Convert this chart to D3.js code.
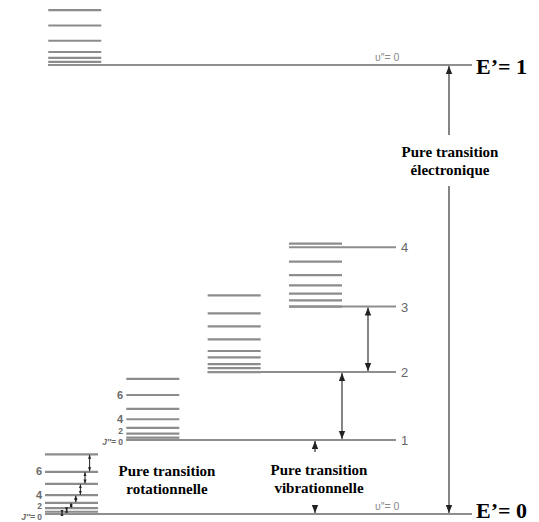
<!DOCTYPE html>
<html><head><meta charset="utf-8">
<script src="https://cdn.jsdelivr.net/npm/d3@7"></script>
<style>body{margin:0;background:#fff}svg{display:block}</style>
</head><body>
<svg id="c" width="539" height="522"></svg>
<script>
// ---- data (energies in arbitrary units; ground electronic = 0, excited electronic = 1000)
const electronicLevels = [0, 1000];
const electronicLabels = ["E’= 0", "E’= 1"];
const vibLevels = [0, 165, 316, 462, 594];           // v = 0..4 of ground electronic state
const vibLabels = ["", "1", "2", "3", "4"];
// rotational offsets above each vibrational level (J = 0,1,2,...)
const rotGround = [0, 5, 13, 25, 42, 67, 94, 133];
const rotV1 = [0, 5, 14, 27, 46, 69, 100, 136];
const rotV2 = [0, 9, 18, 33, 47, 73, 102, 131, 171];
const rotV3 = [0, 14, 29, 47, 70, 100, 140];
const rotExcited = [0, 7, 16, 29, 54, 88, 122];
const rotLabelJ = [0, 2, 4, 6];
const transitionTexts = [["Pure transition", "rotationnelle"], ["Pure transition", "vibrationnelle"], ["Pure transition", "électronique"]];

const svg = d3.select("#c");
const y = d3.scaleLinear().domain([0, 1000]).range([514, 65]);
const colX = d3.scaleLinear().domain([0, 3]).range([45, 289]); // stack column left edge
const stackW = 53;
const lineEnd = 396, elecEnd = 472;
const gray = "#8e8e8e";

// defs for arrows
const defs = svg.append("defs");
function marker(id, size, orient) {
  defs.append("marker").attr("id", id).attr("viewBox", "0 0 10 10")
    .attr("refX", 10).attr("refY", 5).attr("markerWidth", size).attr("markerHeight", size)
    .attr("orient", orient).attr("markerUnits", "userSpaceOnUse")
    .append("path").attr("d", "M0,1 L10,5 L0,9 Z").attr("fill", "#222");
}
marker("ah", 8, "auto-start-reverse");
marker("as", 4, "auto-start-reverse");

// rotational stacks
const stacks = [
  {base: vibLevels[0], rot: rotGround, col: 0},
  {base: vibLevels[1], rot: rotV1, col: 1},
  {base: vibLevels[2], rot: rotV2, col: 2},
  {base: vibLevels[3], rot: rotV3, col: 3},
  {base: electronicLevels[1], rot: rotExcited, col: 0.04}
];
stacks.forEach(s => {
  svg.append("g").selectAll("line").data(s.rot).join("line")
    .attr("x1", colX(s.col)).attr("x2", colX(s.col) + stackW)
    .attr("y1", d => y(s.base + d)).attr("y2", d => y(s.base + d))
    .attr("stroke", "#8c8c8c").attr("stroke-width", 2.2);
});

// vibrational level lines
svg.append("g").selectAll("line").data(vibLevels.slice(1)).join("line")
  .attr("x1", (d, i) => colX(Math.min(i + 1, 3))).attr("x2", lineEnd)
  .attr("y1", d => y(d)).attr("y2", d => y(d))
  .attr("stroke", gray).attr("stroke-width", 2);
// electronic level lines
svg.append("g").selectAll("line").data(electronicLevels).join("line")
  .attr("x1", (d, i) => i === 0 ? colX(0) : colX(0.04)).attr("x2", elecEnd)
  .attr("y1", d => y(d)).attr("y2", d => y(d))
  .attr("stroke", gray).attr("stroke-width", 2);

// vibrational labels
svg.append("g").selectAll("text").data(vibLevels).join("text")
  .attr("x", 401).attr("y", d => y(d) + 5)
  .text((d, i) => vibLabels[i])
  .attr("font-family", "Liberation Sans, Arial").attr("font-size", 13).attr("fill", "#666");

// v'' = 0 labels
svg.append("g").selectAll("text").data(electronicLevels).join("text")
  .attr("x", 375).attr("y", d => y(d) - 4.5)
  .attr("font-family", "Liberation Sans, Arial").attr("font-size", 10.5).attr("fill", "#888")
  .text("υ″= 0");

// electronic labels
svg.append("g").selectAll("text").data(electronicLevels).join("text")
  .attr("x", 476).attr("y", (d, i) => y(d) + (i === 0 ? 4 : 9))
  .attr("font-family", "Liberation Serif, Times New Roman").attr("font-weight", "bold")
  .attr("font-size", 22).attr("fill", "#000")
  .text((d, i) => electronicLabels[i]);

// J labels on first two stacks
[{s: stacks[0], xr: 42}, {s: stacks[1], xr: 123}].forEach(o => {
  const g = svg.append("g").attr("font-family", "Liberation Sans, Arial").attr("font-weight", "bold")
    .attr("font-size", 11).attr("fill", "#6a6a6a").attr("text-anchor", "end");
  g.selectAll("text").data(rotLabelJ).join("text")
    .attr("x", o.xr).attr("y", j => y(o.s.base + o.s.rot[j]) + (j === 0 ? 5.5 : j === 2 ? 0.5 : 3.5))
    .attr("font-size", j => j < 4 ? 8.5 : 11)
    .text(j => String(j));
  g.append("text").attr("x", o.xr - 7).attr("y", y(o.s.base) + 5.5)
    .attr("font-style", "italic").attr("font-size", 8.5).text("J″=");
});

// small rotational arrows in ground stack
const pairs = d3.range(rotGround.length - 1);
svg.append("g").selectAll("line").data(pairs).join("line")
  .attr("x1", j => 62 + 4.6 * j).attr("x2", j => 62 + 4.6 * j)
  .attr("y1", j => y(rotGround[j]) - 0.5).attr("y2", j => y(rotGround[j + 1]) + 0.5)
  .attr("stroke", "#222").attr("stroke-width", 1)
  .attr("marker-start", "url(#as)").attr("marker-end", "url(#as)");

// vibrational arrows (1<->2, 2<->3)
const vibArrows = [{a: 1, b: 2, x: 342}, {a: 2, b: 3, x: 368}];
svg.append("g").selectAll("line").data(vibArrows).join("line")
  .attr("x1", d => d.x).attr("x2", d => d.x)
  .attr("y1", d => y(vibLevels[d.a]) - 1).attr("y2", d => y(vibLevels[d.b]) + 1)
  .attr("stroke", "#333").attr("stroke-width", 1.2)
  .attr("marker-start", "url(#ah)").attr("marker-end", "url(#ah)");

// pure vibrational arrow (0->1) broken by text
const vx = 315;
svg.append("line").attr("x1", vx).attr("x2", vx).attr("y1", 452).attr("y2", y(vibLevels[1]) + 1)
  .attr("stroke", "#333").attr("stroke-width", 1.2).attr("marker-end", "url(#ah)");
svg.append("line").attr("x1", vx).attr("x2", vx).attr("y1", 505).attr("y2", y(vibLevels[0]) - 1)
  .attr("stroke", "#333").attr("stroke-width", 1.2).attr("marker-end", "url(#ah)");

// electronic arrow broken by text
const ex = 449;
svg.append("line").attr("x1", ex).attr("x2", ex).attr("y1", 135).attr("y2", y(electronicLevels[1]) + 1)
  .attr("stroke", "#333").attr("stroke-width", 1.2).attr("marker-end", "url(#ah)");
svg.append("line").attr("x1", ex).attr("x2", ex).attr("y1", 186).attr("y2", y(electronicLevels[0]) - 1)
  .attr("stroke", "#333").attr("stroke-width", 1.2).attr("marker-end", "url(#ah)");

// transition texts
const textPos = [{x: 167, y: 476}, {x: 319, y: 475}, {x: 450, y: 157}];
transitionTexts.forEach((lines, i) => {
  const t = svg.append("text").attr("text-anchor", "middle")
    .attr("font-family", "Liberation Serif, Times New Roman").attr("font-weight", "bold")
    .attr("font-size", 15).attr("fill", "#000");
  lines.forEach((l, k) => t.append("tspan").attr("x", textPos[i].x).attr("y", textPos[i].y + k * 18).text(l));
});
</script>
</body></html>
